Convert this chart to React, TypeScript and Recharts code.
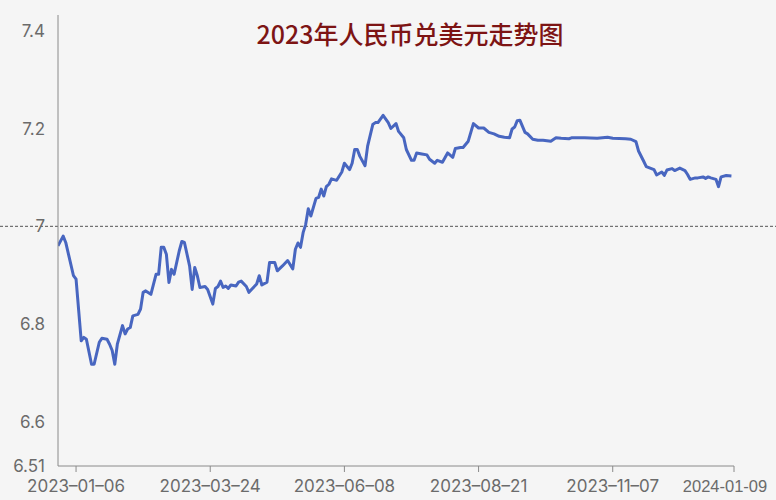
import React from "react";
import { LineChart, Line, XAxis, YAxis, ReferenceLine } from "recharts";

const tradingDay = [
  0, 2, 3, 6, 7, 9, 10, 11, 13, 14,
  16, 17, 19, 20, 21, 22, 23, 25, 26, 27,
  28, 29, 31, 32, 33, 34, 36, 38, 39, 40,
  41, 42, 43, 44, 45, 47, 48, 49, 51, 52,
  53, 54, 55, 57, 58, 60, 61, 62, 63, 64,
  65, 66, 67, 69, 70, 71, 73, 74, 75, 77,
  78, 79, 81, 82, 84, 85, 87, 89, 91, 92,
  93, 94, 95, 96, 97, 98, 100, 101, 102, 103,
  104, 105, 106, 108, 110, 111, 113, 114, 115, 116,
  117, 119, 120, 122, 123, 124, 126, 128, 129, 131,
  132, 134, 135, 137, 138, 139, 141, 143, 144, 146,
  147, 149, 151, 153, 154, 156, 157, 159, 161, 163,
  165, 167, 169, 171, 173, 175, 176, 177, 178, 179,
  181, 182, 184, 186, 188, 191, 193, 195, 198, 199,
  204, 209, 213, 215, 220, 222, 224, 225, 227, 228,
  230, 231, 232, 234, 235, 236, 238, 239, 241, 243,
  244, 245, 247, 248, 250, 251, 252, 253, 255, 256,
  257, 259, 261,
];

const usdCny = [
  6.96, 6.98, 6.967, 6.899, 6.892, 6.766, 6.773, 6.769, 6.718, 6.718,
  6.763, 6.771, 6.769, 6.759, 6.746, 6.718, 6.759, 6.797, 6.78, 6.79,
  6.793, 6.817, 6.82, 6.831, 6.865, 6.868, 6.861, 6.902, 6.902, 6.957,
  6.957, 6.943, 6.885, 6.912, 6.902, 6.95, 6.969, 6.967, 6.919, 6.871,
  6.916, 6.899, 6.875, 6.877, 6.871, 6.841, 6.873, 6.877, 6.888, 6.875,
  6.878, 6.873, 6.88, 6.878, 6.886, 6.888, 6.877, 6.865, 6.871, 6.882,
  6.899, 6.88, 6.886, 6.926, 6.926, 6.909, 6.919, 6.93, 6.913, 6.953,
  6.966, 6.957, 6.987, 7.004, 7.036, 7.021, 7.057, 7.059, 7.076, 7.062,
  7.081, 7.086, 7.097, 7.094, 7.111, 7.129, 7.116, 7.129, 7.157, 7.157,
  7.143, 7.124, 7.164, 7.208, 7.212, 7.212, 7.227, 7.212, 7.2, 7.21,
  7.194, 7.181, 7.157, 7.135, 7.135, 7.15, 7.148, 7.146, 7.137, 7.129,
  7.135, 7.131, 7.15, 7.141, 7.159, 7.161, 7.161, 7.174, 7.21, 7.201,
  7.201, 7.192, 7.189, 7.184, 7.182, 7.181, 7.199, 7.203, 7.216, 7.217,
  7.192, 7.189, 7.178, 7.176, 7.176, 7.174, 7.181, 7.18, 7.179, 7.181,
  7.181, 7.18, 7.182, 7.18, 7.179, 7.178, 7.173, 7.154, 7.133, 7.122,
  7.118, 7.116, 7.105, 7.111, 7.104, 7.115, 7.118, 7.114, 7.119, 7.114,
  7.106, 7.096, 7.099, 7.099, 7.101, 7.098, 7.101, 7.099, 7.096, 7.081,
  7.101, 7.104, 7.103,
];

const xTickDays = [7, 59, 111, 163, 215, 262];
const xTickLabels = ["2023–01–06", "2023–03–24", "2023–06–08", "2023–08–21", "2023–11–07", "2024-01-09"];
const yTicks = [6.51, 6.6, 6.8, 7, 7.2, 7.4];
const yTickLabels = ["6.51", "6.6", "6.8", "7", "7.2", "7.4"];
const title = "2023年人民币兑美元走势图";

const data = tradingDay.map((d, i) => ({ d, v: usdCny[i] }));

const W = 776;
const H = 500;
const FONT = "Inter, 'Noto Sans CJK SC', sans-serif";
const AXIS = "#8a8a8a";
const TEXT = "#6b6b6b";

const XTick = (props: any) => {
  const { x, y, payload } = props;
  const i = xTickDays.indexOf(payload.value);
  const label = i >= 0 ? xTickLabels[i] : "";
  const last = i === xTickDays.length - 1;
  return (
    <text
      x={last ? x - 9 : x}
      y={y}
      dy="0.71em"
      textAnchor="middle"
      fill={TEXT}
      fontSize={last ? 16.5 : 17}
      fontFamily={last ? "'Liberation Sans', Arial, sans-serif" : FONT}
    >
      {label}
    </text>
  );
};

const YTick = (props: any) => {
  const { x, y, payload } = props;
  const i = yTicks.indexOf(payload.value);
  return (
    <text x={x} y={y} dy="0.355em" textAnchor="end" fill={TEXT} fontSize={17} fontFamily={FONT}>
      {i >= 0 ? yTickLabels[i] : ""}
    </text>
  );
};

const FullWidthDash = (props: any) => {
  const { y1 } = props;
  return <line x1={0} x2={W} y1={y1} y2={y1} stroke="#555" strokeWidth={1} strokeDasharray="3 2" />;
};

export default function App() {
  return (
    <div style={{ position: "absolute", left: 0, top: 0, width: W, height: H, background: "#f5f5f5" }}>
      <LineChart width={W} height={H} data={data} margin={{ top: 15, right: 42, left: 0, bottom: 0 }}>
        <XAxis
          dataKey="d"
          type="number"
          domain={[0, 262]}
          ticks={xTickDays}
          interval={0}
          allowDataOverflow
          height={34}
          stroke={AXIS}
          tickSize={6}
          tickMargin={8}
          tick={<XTick />}
        />
        <YAxis
          type="number"
          domain={[6.51, 7.432]}
          ticks={yTicks}
          interval={0}
          allowDataOverflow
          width={58}
          stroke={AXIS}
          tickLine={false}
          tickSize={0}
          tickMargin={13}
          tick={<YTick />}
        />
        <ReferenceLine y={7} shape={<FullWidthDash />} ifOverflow="visible" />
        <Line
          type="linear"
          dataKey="v"
          stroke="#4866c0"
          strokeWidth={3}
          dot={false}
          strokeLinejoin="round"
          isAnimationActive={false}
        />
      </LineChart>
      <svg width={W} height={H} style={{ position: "absolute", left: 0, top: 0, pointerEvents: "none" }}>
        <text
          x={410}
          y={44}
          textAnchor="middle"
          fill="#7d1414"
          fontSize={25}
          fontWeight={500}
          fontFamily="'Noto Sans CJK SC', sans-serif"
        >
          {title}
        </text>
      </svg>
    </div>
  );
}
